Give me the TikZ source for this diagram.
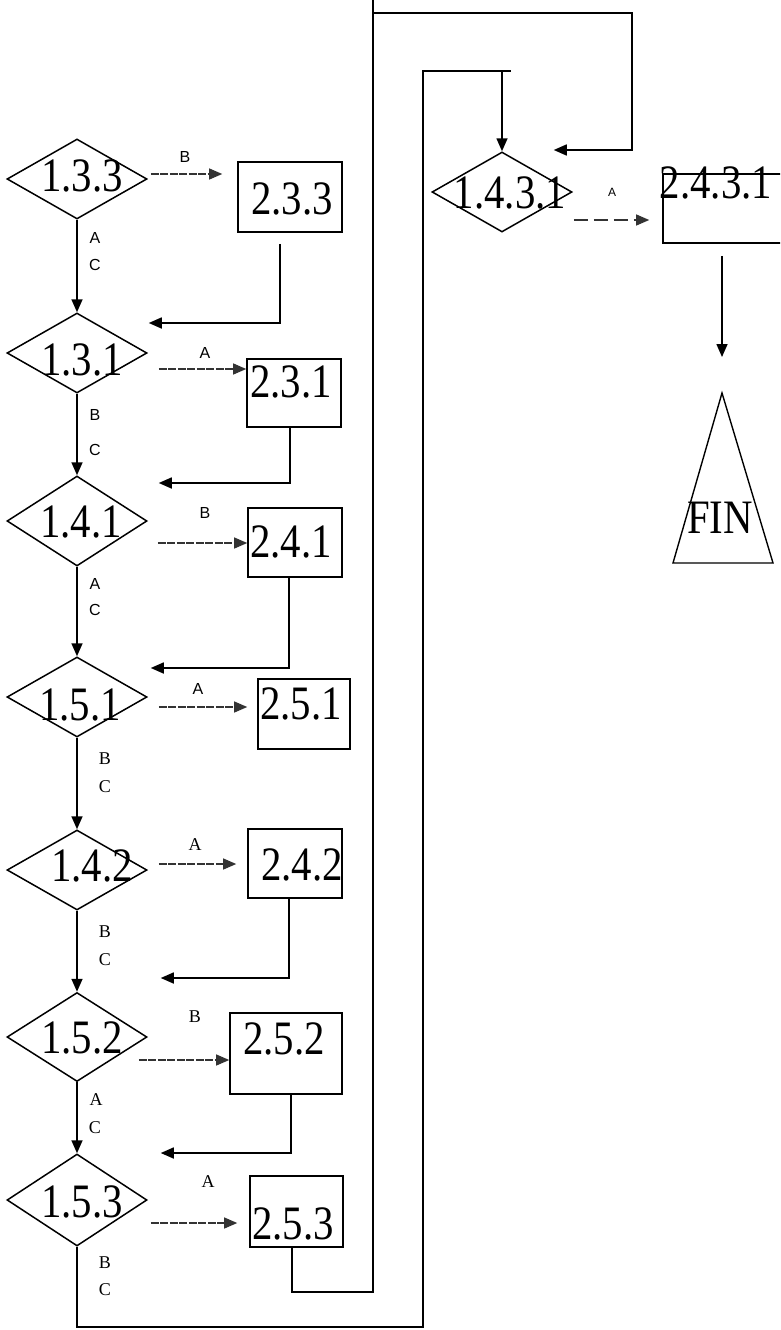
\documentclass[tikz,border=0pt]{standalone}
\usepackage{fontspec}
\usepackage{graphicx}
\setmainfont{Liberation Serif}
\newfontfamily\lsans{Liberation Sans}
\usetikzlibrary{shapes.geometric,arrows.meta,calc}
\newcommand\BT[1]{\scalebox{1.02}[1.2]{\fontsize{40}{40}\selectfont #1}}
\tikzset{
  dia/.style={diamond, draw, line width=1.5pt, minimum width=140pt, minimum height=80pt, inner sep=0pt},
  box/.style={rectangle, draw, line width=1.6pt, inner sep=0pt},
  txt/.style={inner sep=0pt},
  slab/.style={inner sep=0pt, font=\lsans\fontsize{16}{16}\selectfont},
  rlab/.style={inner sep=0pt, font=\fontsize{18}{18}\selectfont},
  vline/.style={line width=1.6pt, -{Triangle[length=13pt,width=11pt]}},
  hline/.style={line width=1.1pt, draw=black!80, dash pattern=on 8pt off 1.5pt, -{Triangle[length=13pt,width=11pt]}},
  rline/.style={line width=1.6pt, -{Triangle[length=13pt,width=11pt]}},
  pline/.style={line width=1.6pt}
}
\begin{document}
\begin{tikzpicture}[x=1pt,y=-1pt]
\clip (0,0) rectangle (780,1330);
\fill[white] (0,0) rectangle (780,1330);

% diamonds
\node[dia] (d133) at (77,179) {};
\node[dia] (d131) at (77,353) {};
\node[dia, minimum height=90pt] (d141) at (77,521) {};
\node[dia] (d151) at (77,697) {};
\node[dia] (d142) at (77,870) {};
\node[dia, minimum height=89pt] (d152) at (77,1037) {};
\node[dia, minimum height=92pt] (d153) at (77,1200) {};
\node[dia] (d1431) at (502,192) {};

\node[txt] (t133) at (82,176) {\BT{1.3.3}};
\node[txt] (t131) at (82,360) {\BT{1.3.1}};
\node[txt] (t141) at (81,522) {\BT{1.4.1}};
\node[txt] (t151) at (80,705) {\BT{1.5.1}};
\node[txt] (t142) at (92,866) {\BT{1.4.2}};
\node[txt] (t152) at (82,1038) {\BT{1.5.2}};
\node[txt] (t153) at (82,1202) {\BT{1.5.3}};
\node[txt] (t1431) at (510,193) {\BT{1.4.3.1}};

% boxes
\node[box, minimum width=104pt, minimum height=70pt] (b233) at (290,197) {};
\node[box, minimum width=94pt, minimum height=68pt] (b231) at (294,393) {};
\node[box, minimum width=94pt, minimum height=69pt] (b241) at (295,542.5) {};
\node[box, minimum width=92pt, minimum height=70pt] (b251) at (304,714) {};
\node[box, minimum width=94pt, minimum height=69pt] (b242) at (295,863.5) {};
\node[box, minimum width=112pt, minimum height=81pt] (b252) at (286,1053.5) {};
\node[box, minimum width=93pt, minimum height=71pt] (b253) at (296.5,1211.5) {};
\node[box, minimum width=137pt, minimum height=69pt] (b2431) at (731.5,208.5) {};

\node[txt] (u233) at (292,199) {\BT{2.3.3}};
\node[txt] (u231) at (291,382) {\BT{2.3.1}};
\node[txt] (u241) at (291,542) {\BT{2.4.1}};
\node[txt] (u251) at (301,704) {\BT{2.5.1}};
\node[txt] (u242) at (302,865) {\BT{2.4.2}};
\node[txt] (u252) at (284,1039) {\BT{2.5.2}};
\node[txt] (u253) at (293,1224) {\BT{2.5.3}};
\node[txt] (u2431) at (716,183) {\BT{2.4.3.1}};

% FIN triangle
\coordinate (finTop) at (722,393);
\coordinate (finR) at (773,563);
\coordinate (finL) at (673,563);
\draw[pline, line width=1.4pt] (finTop) -- (finR) -- (finL) -- cycle;
\node[txt] (tfin) at (720,518) {\BT{FIN}};

% horizontal arrows
\draw[hline] ($(d133.east)+(3,-5)$) -- ($(b233.west)+(-15,-23)$);
\draw[hline] ($(d131.east)+(11,16)$) -- ($(b231.west)+(0,-24)$);
\draw[hline] ($(d141.east)+(10,22)$) -- ($(b241.west)+(0,0.5)$);
\draw[hline] ($(d151.east)+(11,10)$) -- ($(b251.west)+(-10,-7)$);
\draw[hline] ($(d142.east)+(11,-6)$) -- ($(b242.west)+(-11,0.5)$);
\draw[hline] ($(d152.east)+(-9,23)$) -- ($(b252.west)+(0,6.5)$);
\draw[hline] ($(d153.east)+(3,23)$) -- ($(b253.west)+(-12,11.5)$);
\draw[hline, dash pattern=on 14pt off 6pt] ($(d1431.east)+(1,28)$) -- ($(b2431.west)+(-13,11.5)$);

\node[slab] (l1) at (185,157) {B};
\node[slab] (l2) at (205,353) {A};
\node[slab] (l3) at (205,513) {B};
\node[slab] (l4) at (198,689) {A};
\node[rlab] (l5) at (195,845) {A};
\node[rlab] (l6) at (195,1017) {B};
\node[rlab] (l7) at (208,1182) {A};
\node[slab, font=\lsans\fontsize{12}{12}\selectfont] (l8) at (612,192) {A};

% vertical arrows
\draw[vline] (d133.south) -- (d131.north);
\draw[vline] (d131.south) -- (d141.north);
\draw[vline] (d141.south) -- (d151.north);
\draw[vline] (d151.south) -- (d142.north);
\draw[vline] (d142.south) -- (d152.north);
\draw[vline] (d152.south) -- (d153.north);

\node[slab] (v1a) at (95,238) {A};
\node[slab] (v1b) at (95,265) {C};
\node[slab] (v2a) at (95,415) {B};
\node[slab] (v2b) at (95,450) {C};
\node[slab] (v3a) at (95,584) {A};
\node[slab] (v3b) at (95,610) {C};
\node[rlab] (v4a) at (105,759) {B};
\node[rlab] (v4b) at (105,787) {C};
\node[rlab] (v5a) at (105,932) {B};
\node[rlab] (v5b) at (105,960) {C};
\node[rlab] (v6a) at (96,1100) {A};
\node[rlab] (v6b) at (95,1128) {C};
\node[rlab] (v7a) at (105,1263) {B};
\node[rlab] (v7b) at (105,1290) {C};

% return lines
\draw[rline] ($(b233.south)+(-10,11)$) |- ($(d131.east)+(1,-30)$);
\draw[rline] ($(b231.south)+(-4,0)$) |- ($(d141.east)+(11,-38)$);
\draw[rline] ($(b241.south)+(-6,0)$) |- ($(d151.east)+(3,-29)$);
\draw[rline] ($(b242.south)+(-6,0)$) |- ($(d152.east)+(13,-59)$);
\draw[rline] ($(b252.south)+(5,0)$) |- ($(d153.east)+(13,-47)$);

% long loop from 2.5.3 to 1.4.3.1
\coordinate (c1) at (292,1292);
\coordinate (c2) at (373,1292);
\coordinate (c3) at (373,13);
\coordinate (c4) at (632,13);
\coordinate (c5) at (632,150);
\draw[rline] ($(b253.south)+(-4.5,0)$) -- (c1) -- (c2) -- (c3) -- (c4) -- (c5) -- ($(d1431.east)+(-19,-42)$);
\draw[pline] (c3) -- ++(0,-13);

% long loop from 1.5.3 to 1.4.3.1
\coordinate (e1) at (77,1327);
\coordinate (e2) at (423,1327);
\coordinate (e3) at (423,71);
\coordinate (e4) at (511,71);
\coordinate (e5) at (502,71);
\draw[pline] (d153.south) -- (e1) -- (e2) -- (e3) -- (e4);
\draw[vline] (e5) -- (d1431.north);

% to FIN
\draw[vline] ($(b2431.south)+(-9.5,12)$) -- ($(finTop)+(0,-36)$);
\end{tikzpicture}
\end{document}
